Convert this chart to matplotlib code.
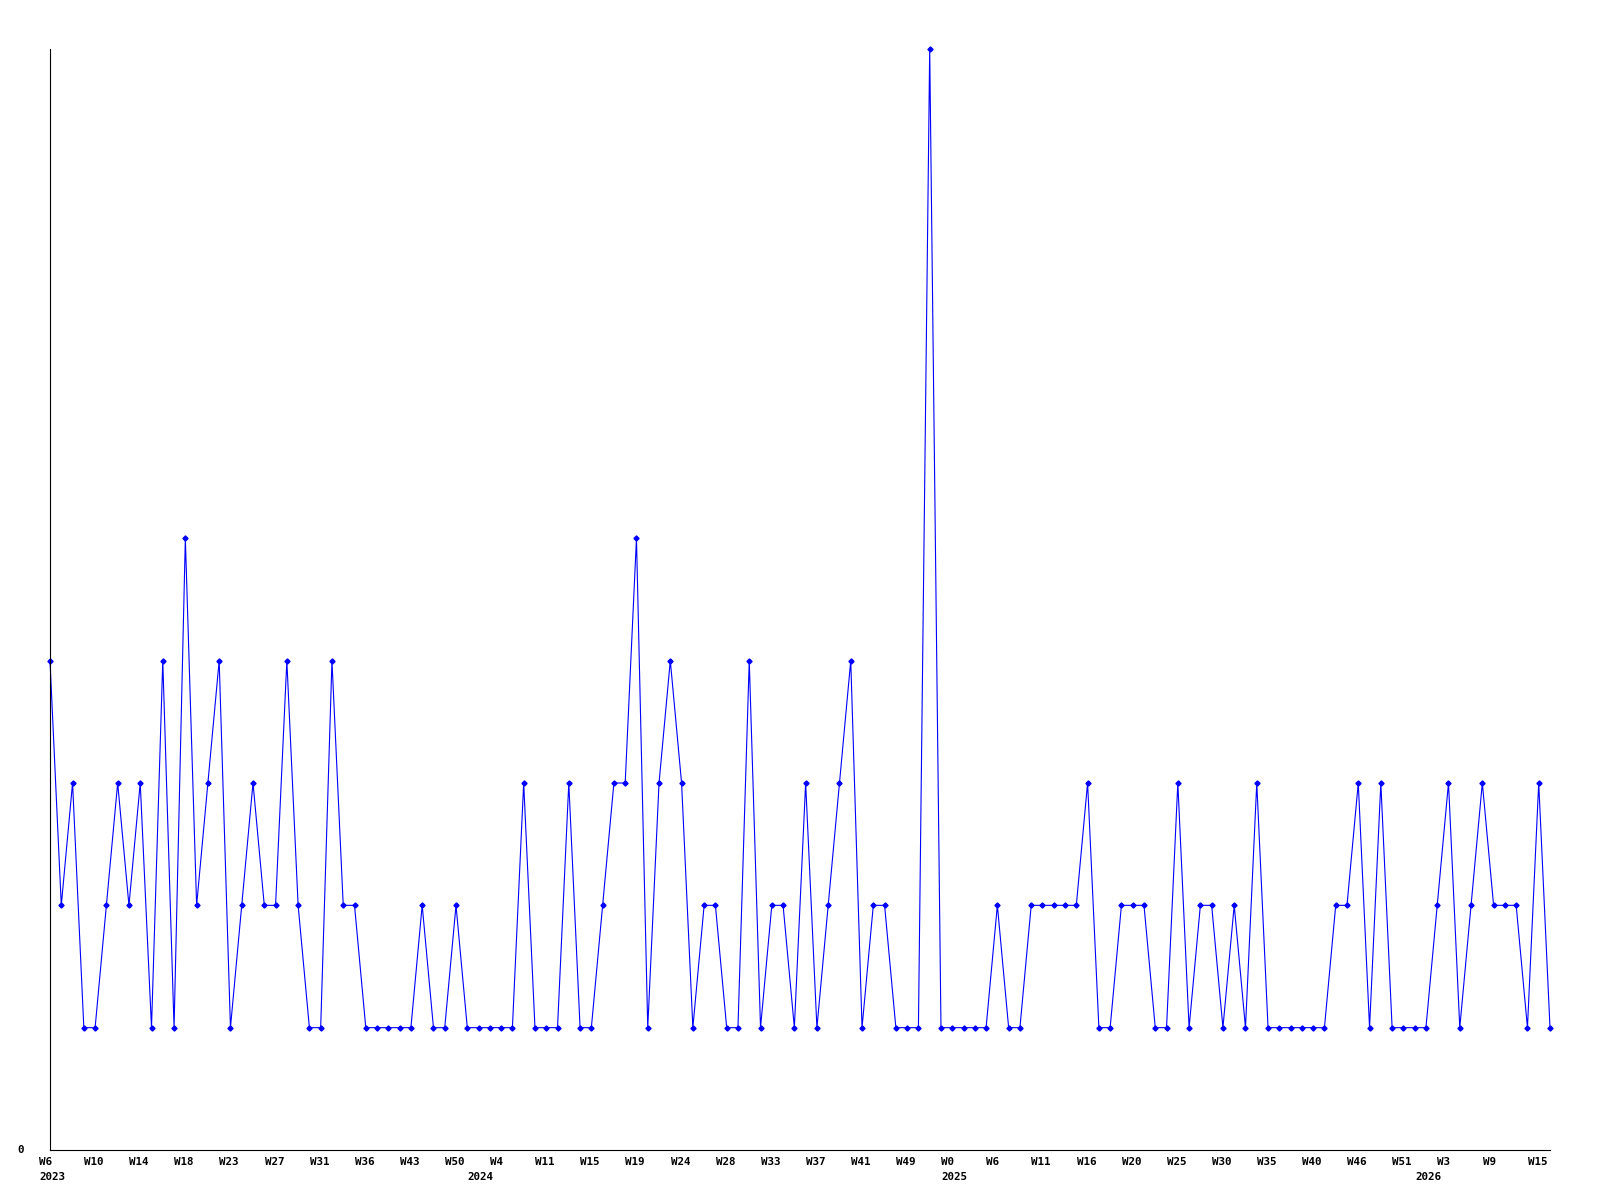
import matplotlib
matplotlib.use('Agg')
import matplotlib.pyplot as plt

# weekly counts, one entry per week bucket (2023 W6 .. 2026 W16)
counts = [
    4, 2, 3, 1, 1, 2, 3, 2, 3, 1, 4, 1, 5, 2, 3, 4, 1, 2, 3, 2, 2, 4, 2,
    1, 1, 4, 2, 2, 1, 1, 1, 1, 1, 2, 1, 1, 2, 1, 1, 1, 1, 1, 3, 1, 1,
    1, 3, 1, 1, 2, 3, 3, 5, 1, 3, 4, 3, 1, 2, 2, 1, 1, 4, 1, 2, 2, 1,
    3, 1, 2, 3, 4, 1, 2, 2, 1, 1, 1, 9, 1, 1, 1, 1, 1, 2, 1, 1, 2, 2,
    2, 2, 2, 3, 1, 1, 2, 2, 2, 1, 1, 3, 1, 2, 2, 1, 2, 1, 3, 1, 1, 1,
    1, 1, 1, 2, 2, 3, 1, 3, 1, 1, 1, 1, 2, 3, 1, 2, 3, 2, 2, 2, 1, 3, 1,
]

# every 4th bucket gets a week label
week_labels = [
    'W6', 'W10', 'W14', 'W18', 'W23', 'W27', 'W31', 'W36', 'W43', 'W50',
    'W4', 'W11', 'W15', 'W19', 'W24', 'W28', 'W33', 'W37', 'W41', 'W49',
    'W0', 'W6', 'W11', 'W16', 'W20', 'W25', 'W30', 'W35', 'W40', 'W46',
    'W51', 'W3', 'W9', 'W15',
]
LABEL_STEP = 4

years = ['2023', '2024', '2025', '2026']
year_start_idx = [0, 38, 80, 122]

DPI = 100
PX = 72 / DPI          # one pixel in points
_LINE = '#0000ff'
_FONT = dict(family='DejaVu Sans Mono', fontweight='bold', fontsize=7.8, color='black')

fig = plt.figure(figsize=(16, 12), dpi=DPI, facecolor='white')
ax = fig.add_axes([50 / 1600, 50 / 1200, 1500 / 1600, 1101 / 1200])

x = list(range(len(counts)))
ax.plot(x, counts, color=_LINE, linewidth=0.8, marker='D', markersize=2.6,
        markerfacecolor=_LINE, markeredgecolor=_LINE, clip_on=False)

ax.set_xlim(0, len(counts) - 1)
ax.set_ylim(0, 9)
ax.set_xticks([])
ax.set_yticks([])

for side in ('top', 'right'):
    ax.spines[side].set_visible(False)
for side in ('left', 'bottom'):
    ax.spines[side].set_color('black')
    ax.spines[side].set_linewidth(0.8)

# week labels, left edge one bucket before the point
for k, lab in enumerate(week_labels):
    ax.annotate(lab, xy=(k * LABEL_STEP, 0), xycoords=('data', 'axes fraction'),
                xytext=(-11 * PX, -12 * PX), textcoords='offset points',
                ha='left', va='center', annotation_clip=False, **_FONT)

for idx, yr in zip(year_start_idx, years):
    ax.annotate(yr, xy=(idx, 0), xycoords=('data', 'axes fraction'),
                xytext=(-11 * PX, -27 * PX), textcoords='offset points',
                ha='left', va='center', annotation_clip=False, **_FONT)

ax.annotate('0', xy=(0, 0), xycoords='data',
            xytext=(-29 * PX, 0), textcoords='offset points',
            ha='center', va='center', annotation_clip=False, **_FONT)

fig.savefig('out.png', dpi=DPI, facecolor='white')
plt.close(fig)
